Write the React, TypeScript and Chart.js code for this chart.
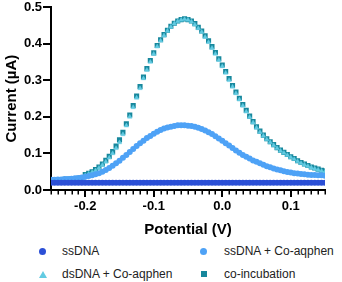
import React, { useEffect, useRef } from "react";
import { Chart, registerables } from "chart.js";

Chart.register(...registerables);

// Potential (V), step 0.005 from -0.25 to 0.15
const potentials: number[] = [
  -0.25, -0.245, -0.24, -0.235, -0.23, -0.225, -0.22, -0.215, -0.21, -0.205,
  -0.2, -0.195, -0.19, -0.185, -0.18, -0.175, -0.17, -0.165, -0.16, -0.155,
  -0.15, -0.145, -0.14, -0.135, -0.13, -0.125, -0.12, -0.115, -0.11, -0.105,
  -0.1, -0.095, -0.09, -0.085, -0.08, -0.075, -0.07, -0.065, -0.06, -0.055,
  -0.05, -0.045, -0.04, -0.035, -0.03, -0.025, -0.02, -0.015, -0.01, -0.005,
  0.0, 0.005, 0.01, 0.015, 0.02, 0.025, 0.03, 0.035, 0.04, 0.045,
  0.05, 0.055, 0.06, 0.065, 0.07, 0.075, 0.08, 0.085, 0.09, 0.095,
  0.1, 0.105, 0.11, 0.115, 0.12, 0.125, 0.13, 0.135, 0.14, 0.145, 0.15,
];

const ssDNA: number[] = [
  0.020, 0.020, 0.020, 0.020, 0.020, 0.020, 0.020, 0.020, 0.020, 0.020,
  0.020, 0.020, 0.020, 0.020, 0.020, 0.020, 0.020, 0.020, 0.020, 0.020,
  0.020, 0.020, 0.020, 0.020, 0.020, 0.020, 0.020, 0.020, 0.020, 0.020,
  0.020, 0.020, 0.020, 0.020, 0.020, 0.020, 0.020, 0.020, 0.020, 0.020,
  0.020, 0.020, 0.020, 0.020, 0.020, 0.020, 0.020, 0.020, 0.020, 0.020,
  0.020, 0.020, 0.020, 0.020, 0.020, 0.020, 0.020, 0.020, 0.020, 0.020,
  0.020, 0.020, 0.020, 0.020, 0.020, 0.020, 0.020, 0.020, 0.020, 0.020,
  0.020, 0.020, 0.020, 0.020, 0.020, 0.020, 0.020, 0.020, 0.020, 0.020, 0.020,
];

const ssDNACo: number[] = [
  0.028, 0.028, 0.029, 0.029, 0.030, 0.030, 0.031, 0.032, 0.033, 0.034,
  0.036, 0.038, 0.040, 0.043, 0.046, 0.050, 0.055, 0.060, 0.066, 0.073,
  0.080, 0.088, 0.096, 0.104, 0.112, 0.120, 0.128, 0.135, 0.142, 0.148,
  0.154, 0.159, 0.164, 0.168, 0.171, 0.173, 0.175, 0.177, 0.177, 0.177,
  0.176, 0.175, 0.173, 0.170, 0.167, 0.163, 0.158, 0.153, 0.147, 0.141,
  0.135, 0.128, 0.122, 0.115, 0.108, 0.102, 0.096, 0.091, 0.086, 0.081,
  0.077, 0.073, 0.069, 0.065, 0.062, 0.059, 0.056, 0.054, 0.051, 0.049,
  0.048, 0.046, 0.045, 0.044, 0.043, 0.042, 0.041, 0.041, 0.040, 0.040, 0.039,
];

const dsDNACo: number[] = [
  0.027, 0.027, 0.028, 0.028, 0.029, 0.029, 0.030, 0.031, 0.032, 0.033,
  0.040, 0.044, 0.048, 0.053, 0.060, 0.068, 0.077, 0.088, 0.100, 0.114,
  0.130, 0.152, 0.176, 0.200, 0.226, 0.252, 0.278, 0.305, 0.328, 0.350,
  0.372, 0.392, 0.408, 0.422, 0.435, 0.446, 0.455, 0.461, 0.465, 0.467,
  0.465, 0.460, 0.452, 0.442, 0.432, 0.418, 0.404, 0.388, 0.372, 0.355,
  0.338, 0.320, 0.300, 0.282, 0.264, 0.247, 0.230, 0.214, 0.199, 0.184,
  0.170, 0.158, 0.148, 0.138, 0.130, 0.122, 0.114, 0.107, 0.101, 0.095,
  0.089, 0.084, 0.078, 0.073, 0.069, 0.065, 0.061, 0.058, 0.055, 0.052, 0.050,
];

const coIncubation: number[] = [
  0.027, 0.027, 0.028, 0.028, 0.029, 0.029, 0.030, 0.031, 0.032, 0.033,
  0.042, 0.046, 0.050, 0.056, 0.063, 0.071, 0.081, 0.092, 0.105, 0.120,
  0.137, 0.158, 0.181, 0.205, 0.231, 0.257, 0.283, 0.309, 0.332, 0.354,
  0.375, 0.395, 0.411, 0.425, 0.437, 0.448, 0.456, 0.462, 0.466, 0.468,
  0.466, 0.462, 0.455, 0.445, 0.435, 0.422, 0.408, 0.392, 0.376, 0.359,
  0.342, 0.324, 0.305, 0.286, 0.268, 0.251, 0.234, 0.218, 0.202, 0.187,
  0.173, 0.161, 0.150, 0.140, 0.132, 0.124, 0.116, 0.109, 0.103, 0.097,
  0.091, 0.086, 0.080, 0.075, 0.071, 0.067, 0.063, 0.060, 0.057, 0.054, 0.052,
];

const xMajorTicks: number[] = [-0.2, -0.1, 0.0, 0.1];
const yTicks: number[] = [0, 0.1, 0.2, 0.3, 0.4, 0.5];

const COLORS = {
  ssDNA: "#2b4fd6",
  ssDNACo: "#4ea2f6",
  dsDNACo: "#62cbe2",
  coInc: "#17879c",
};

const pts = (ys: number[]) => potentials.map((x, i) => ({ x, y: ys[i] }));

const minorTicks = {
  id: "minorTicks",
  afterDraw(chart: any) {
    const xs = chart.scales.x;
    const ctx = chart.ctx;
    const y0 = chart.chartArea.bottom;
    ctx.save();
    ctx.strokeStyle = "#000";
    ctx.lineWidth = 1.5;
    for (let i = 0; i <= 40; i++) {
      const v = -0.25 + i * 0.01;
      if (i % 10 === 5) continue;
      const px = Math.round(xs.getPixelForValue(v)) + 0.25;
      ctx.beginPath();
      ctx.moveTo(px, y0);
      ctx.lineTo(px, y0 + 4.5);
      ctx.stroke();
    }
    ctx.restore();
  },
};

export default function App() {
  const ref = useRef<HTMLCanvasElement | null>(null);
  useEffect(() => {
    if (!ref.current) return;
    const font = "'Liberation Sans', Arial, Helvetica, sans-serif";
    const chart = new Chart(ref.current, {
      type: "scatter",
      data: {
        datasets: [
          {
            label: "ssDNA",
            data: pts(ssDNA),
            pointStyle: "circle",
            pointRadius: 3,
            pointBorderWidth: 0,
            backgroundColor: COLORS.ssDNA,
            borderColor: COLORS.ssDNA,
          },
          {
            label: "ssDNA + Co-aqphen",
            data: pts(ssDNACo),
            pointStyle: "circle",
            pointRadius: 3,
            pointBorderWidth: 0,
            backgroundColor: COLORS.ssDNACo,
            borderColor: COLORS.ssDNACo,
          },
          {
            label: "dsDNA + Co-aqphen",
            data: pts(dsDNACo),
            pointStyle: "triangle",
            pointRadius: 2.6,
            pointBorderWidth: 0.5,
            backgroundColor: COLORS.dsDNACo,
            borderColor: COLORS.dsDNACo,
          },
          {
            label: "co-incubation",
            data: pts(coIncubation),
            pointStyle: "rect",
            pointRadius: 3.6,
            pointBorderWidth: 0,
            backgroundColor: COLORS.coInc,
            borderColor: COLORS.coInc,
          },
        ],
      },
      options: {
        animation: false,
        responsive: false,
        devicePixelRatio: 1,
        layout: { padding: { left: 3, right: 17, top: 0, bottom: 1 } },
        plugins: {
          legend: { display: false },
          tooltip: { enabled: false },
        },
        scales: {
          x: {
            type: "linear",
            min: -0.25,
            max: 0.15,
            afterBuildTicks: (s: any) => {
              s.ticks = xMajorTicks.map((v) => ({ value: v }));
            },
            afterFit: (s: any) => {
              s.height = 49;
            },
            ticks: {
              color: "#000",
              font: { family: font, size: 13, weight: "bold" },
              padding: 2,
              maxRotation: 0,
              autoSkip: false,
              callback: (v: any) => Number(v).toFixed(1),
            },
            grid: {
              drawOnChartArea: false,
              drawTicks: true,
              tickLength: 7,
              color: "#000",
              lineWidth: 2,
            },
            border: { display: true, color: "#000", width: 2 },
            title: {
              display: true,
              text: "Potential (V)",
              color: "#000",
              font: { family: font, size: 15, weight: "bold" },
              padding: 0,
            },
          },
          y: {
            type: "linear",
            min: 0,
            max: 0.5,
            afterBuildTicks: (s: any) => {
              s.ticks = yTicks.map((v) => ({ value: v }));
            },
            afterFit: (s: any) => {
              s.width = 48;
            },
            ticks: {
              color: "#000",
              font: { family: font, size: 13, weight: "bold", lineHeight: 0.95 },
              padding: 1,
              callback: (v: any) => Number(v).toFixed(1),
            },
            grid: {
              drawOnChartArea: false,
              drawTicks: true,
              tickLength: 8,
              color: "#000",
              lineWidth: 2,
            },
            border: { display: true, color: "#000", width: 2 },
            title: {
              display: true,
              text: "Current (µA)",
              color: "#000",
              font: { family: font, size: 15, weight: "bold" },
              padding: 0,
            },
          },
        },
      },
      plugins: [minorTicks],
    } as any);
    return () => chart.destroy();
  }, []);

  const legendFont: React.CSSProperties = {
    position: "absolute",
    fontFamily: "'Liberation Sans', Arial, Helvetica, sans-serif",
    fontSize: 12,
    color: "#222",
    lineHeight: "14px",
    whiteSpace: "nowrap",
  };
  const item = (
    left: number,
    top: number,
    text: string,
    marker: React.ReactNode
  ) => (
    <React.Fragment key={text}>
      {marker}
      <div style={{ ...legendFont, left, top: top - 7 }}>{text}</div>
    </React.Fragment>
  );

  return (
    <div
      style={{
        position: "fixed",
        left: 0,
        top: 0,
        width: 342,
        height: 282,
        background: "#fff",
      }}
    >
      <canvas ref={ref} width={342} height={240} style={{ display: "block" }} />
      {item(
        62,
        251,
        "ssDNA",
        <div
          style={{
            position: "absolute",
            left: 38.5,
            top: 247.5,
            width: 7,
            height: 7,
            borderRadius: "50%",
            background: COLORS.ssDNA,
          }}
        />
      )}
      {item(
        224,
        251,
        "ssDNA + Co-aqphen",
        <div
          style={{
            position: "absolute",
            left: 200,
            top: 247.5,
            width: 7,
            height: 7,
            borderRadius: "50%",
            background: COLORS.ssDNACo,
          }}
        />
      )}
      {item(
        62,
        274,
        "dsDNA + Co-aqphen",
        <div
          style={{
            position: "absolute",
            left: 38.5,
            top: 270.5,
            width: 0,
            height: 0,
            borderLeft: "4px solid transparent",
            borderRight: "4px solid transparent",
            borderBottom: `7px solid ${COLORS.dsDNACo}`,
          }}
        />
      )}
      {item(
        224,
        274,
        "co-incubation",
        <div
          style={{
            position: "absolute",
            left: 200.5,
            top: 270.5,
            width: 6,
            height: 6,
            background: COLORS.coInc,
          }}
        />
      )}
    </div>
  );
}
